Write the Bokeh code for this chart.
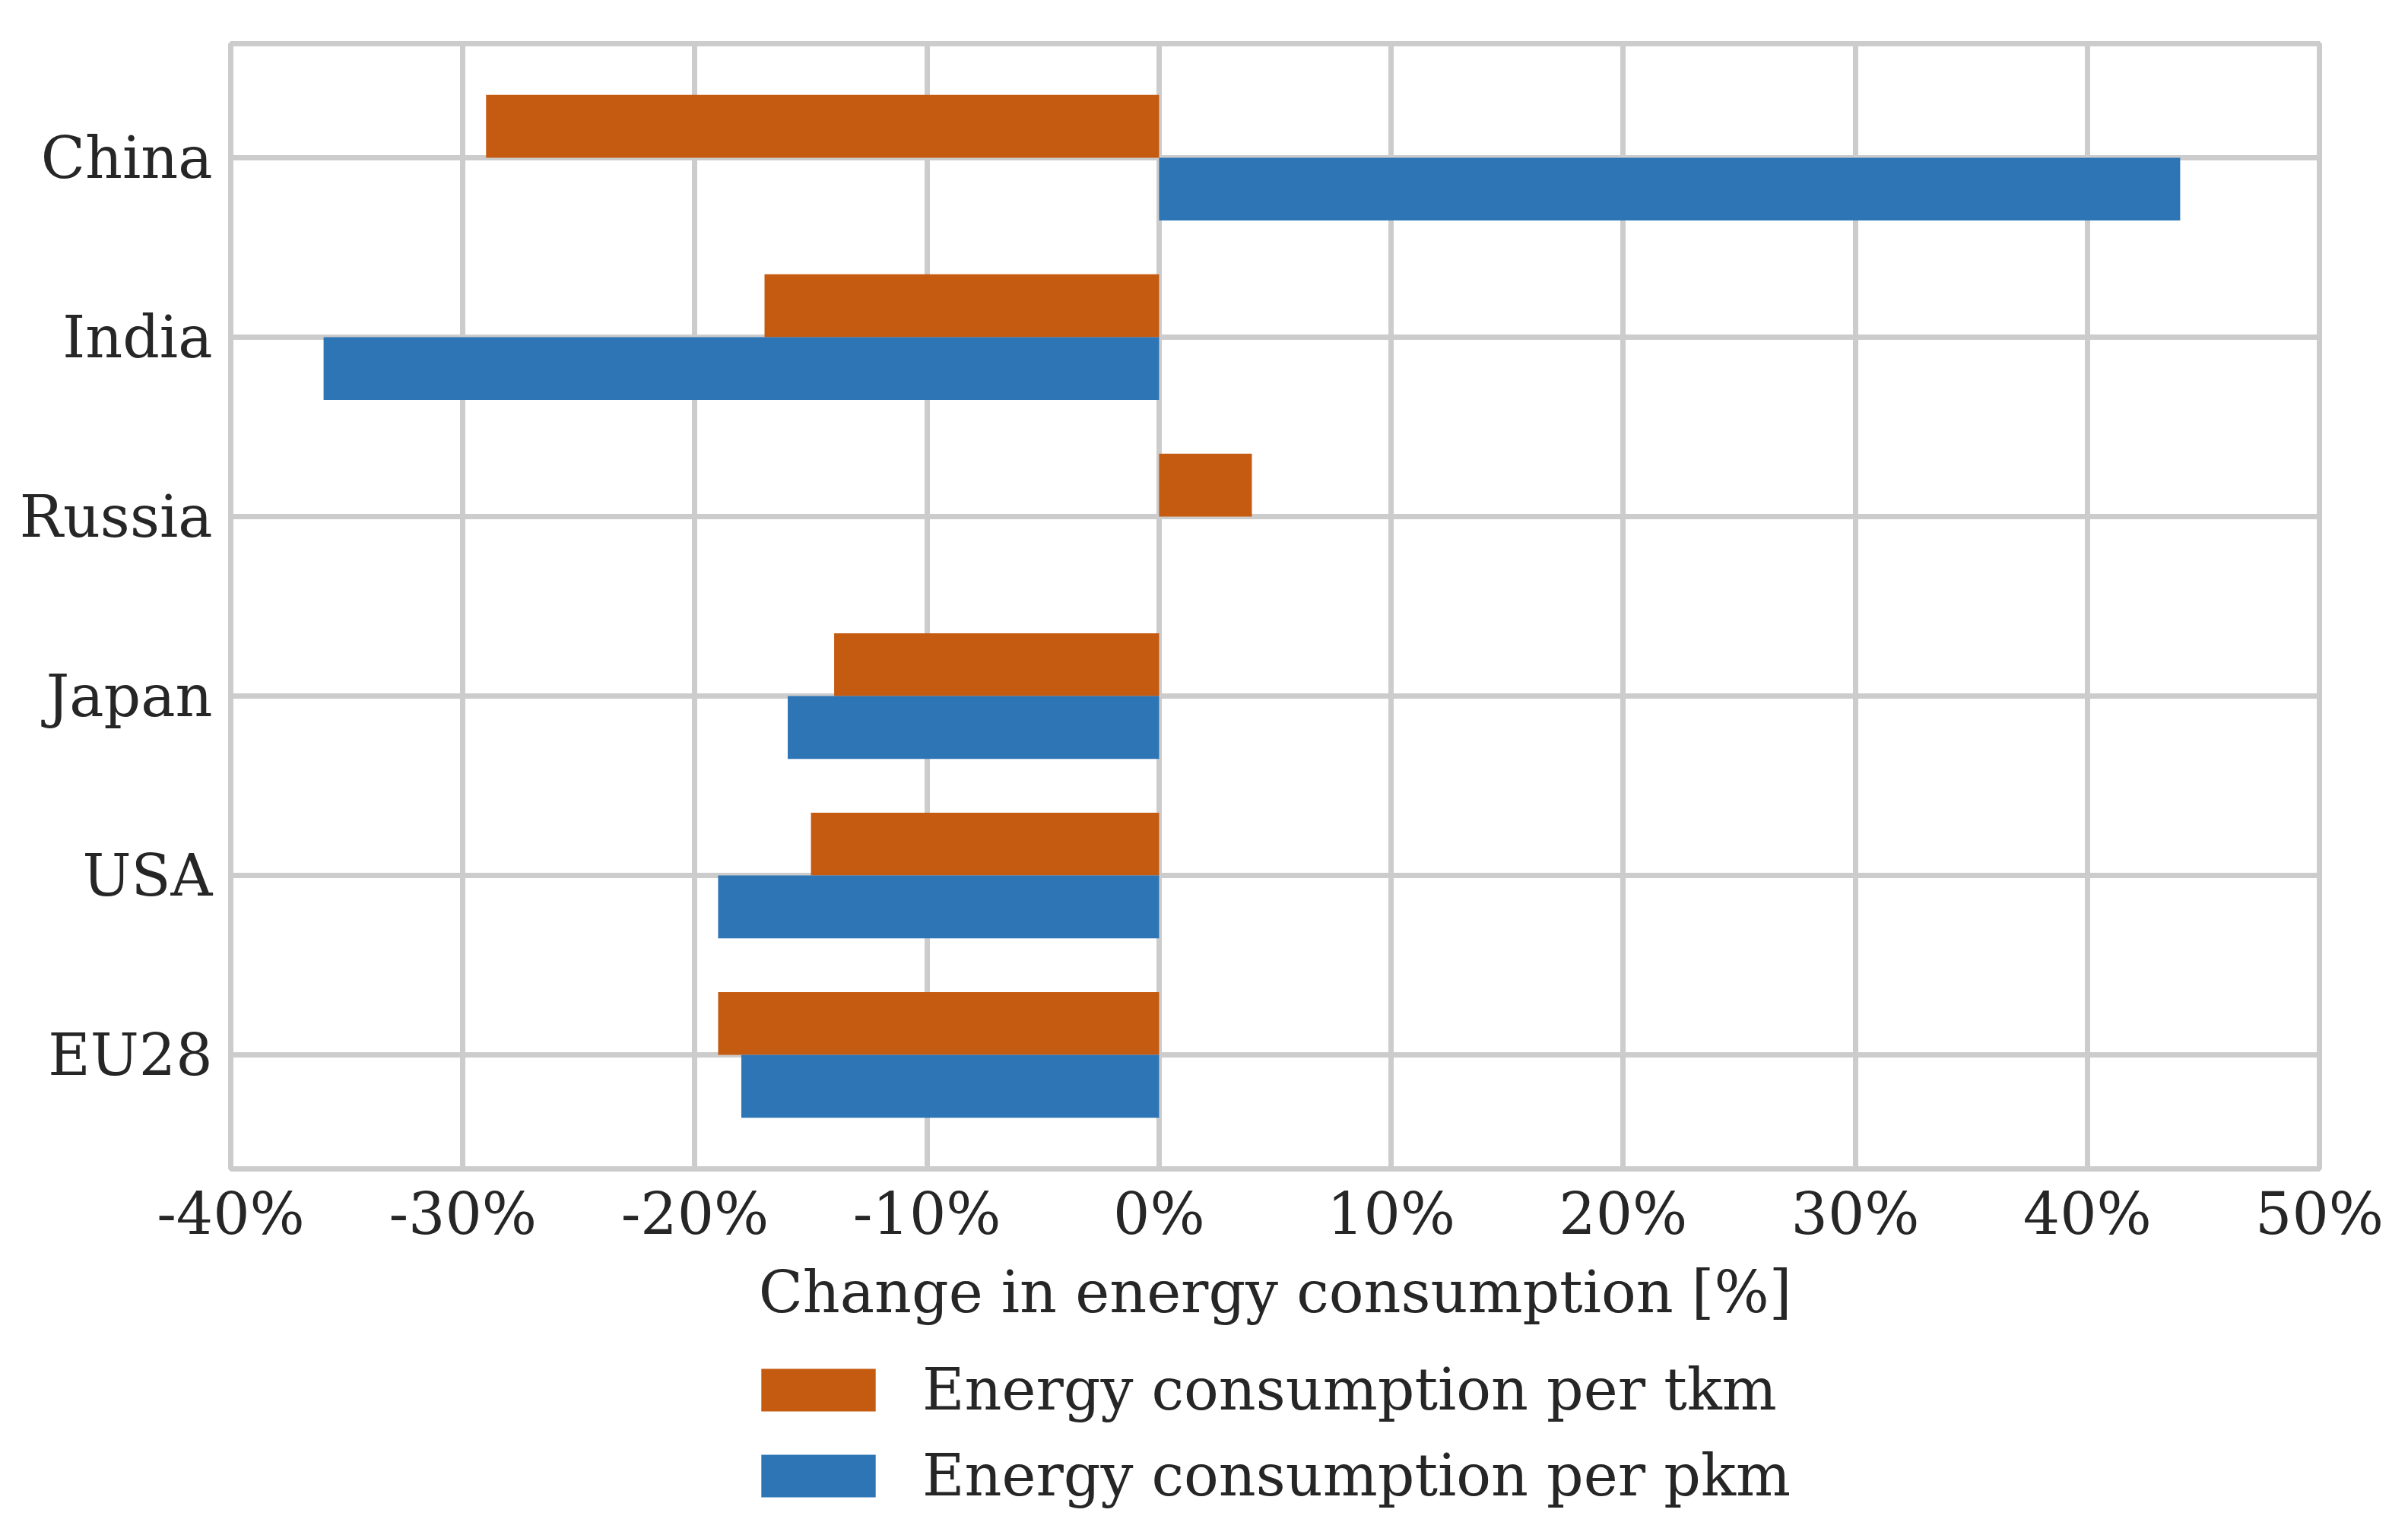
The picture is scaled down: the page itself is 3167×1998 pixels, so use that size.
from bokeh.plotting import figure
from bokeh.models import Range1d, FixedTicker, Legend, LegendItem, ColumnDataSource
from bokeh.layouts import column
from bokeh.embed import file_html
from bokeh.resources import INLINE

countries = ["China", "India", "Russia", "Japan", "USA", "EU28"]
tkm = [-29, -17, 4, -14, -15, -19]
pkm = [44, -36, float("nan"), -16, -19, -18]
xticks = [-40, -30, -20, -10, 0, 10, 20, 30, 40, 50]
xlabel = "Change in energy consumption [%]"
label_tkm = "Energy consumption per tkm"
label_pkm = "Energy consumption per pkm"

ORANGE = "#C55A11"
BLUE = "#2E75B6"
GRID = "#CCCCCC"
TEXT = "#262626"
FONT = "DejaVu Serif"
FS = "76px"
BAR_H = 0.35

idx = list(range(len(countries)))
src = ColumnDataSource(dict(
    y_tkm=[i - BAR_H / 2 for i in idx],
    y_pkm=[i + BAR_H / 2 for i in idx],
    tkm=tkm,
    pkm=pkm,
))

W = 3155
LEFT = 303
p = figure(
    frame_width=2747, frame_height=1480,
    x_range=Range1d(xticks[0], xticks[-1]),
    y_range=Range1d(len(countries) - 1 + 0.635, -0.635),
    output_backend="svg", toolbar_location=None,
    min_border_left=LEFT, min_border_top=57, min_border_right=105, min_border_bottom=230,
)
p.background_fill_color = "white"
p.border_fill_color = "white"
p.outline_line_color = GRID
p.outline_line_width = 7

r_tkm = p.hbar(y="y_tkm", left=0, right="tkm", height=BAR_H, source=src,
               fill_color=ORANGE, line_color=None)
r_pkm = p.hbar(y="y_pkm", left=0, right="pkm", height=BAR_H, source=src,
               fill_color=BLUE, line_color=None)

# axes
p.xaxis.ticker = FixedTicker(ticks=xticks)
p.xaxis.major_label_overrides = {t: f"{t}%" for t in xticks}
p.yaxis.ticker = FixedTicker(ticks=idx)
p.yaxis.major_label_overrides = {i: c for i, c in zip(idx, countries)}
for ax in (p.xaxis, p.yaxis):
    ax.axis_line_color = None
    ax.major_tick_line_color = None
    ax.minor_tick_line_color = None
    ax.major_tick_out = 0
    ax.major_tick_in = 0
    ax.major_label_text_font = FONT
    ax.major_label_text_font_size = FS
    ax.major_label_text_color = TEXT
p.xaxis.major_label_standoff = 14
p.yaxis.major_label_standoff = 24
p.xaxis.axis_label = xlabel
p.xaxis.axis_label_text_font = FONT
p.xaxis.axis_label_text_font_size = FS
p.xaxis.axis_label_text_font_style = "normal"
p.xaxis.axis_label_text_color = TEXT
p.xaxis.axis_label_standoff = 11

p.xgrid.ticker = FixedTicker(ticks=xticks)
p.ygrid.ticker = FixedTicker(ticks=idx)
for g in (p.xgrid, p.ygrid):
    g.grid_line_color = GRID
    g.grid_line_width = 7

# legend panel (separate figure below the chart); its ranges lie away from the
# data so that the legend renderers themselves draw nothing visible
LH = 223
q = figure(width=W, height=LH, x_range=Range1d(1000, 1001), y_range=Range1d(1000, 1001),
           output_backend="svg", toolbar_location=None,
           min_border_left=0, min_border_right=0, min_border_top=0, min_border_bottom=0)
q.axis.visible = False
q.grid.visible = False
q.outline_line_color = None
q.background_fill_color = "white"
q.border_fill_color = "white"
l_tkm = q.hbar(y="y_tkm", left=0, right="tkm", height=BAR_H, source=src,
               fill_color=ORANGE, line_color=None)
l_pkm = q.hbar(y="y_pkm", left=0, right="pkm", height=BAR_H, source=src,
               fill_color=BLUE, line_color=None)

GW, GH = 188, 70   # bar legend glyphs are drawn inset by 10% on each side
legend = Legend(items=[
    LegendItem(label=label_tkm, renderers=[l_tkm], index=0),
    LegendItem(label=label_pkm, renderers=[l_pkm], index=0),
], location=(982 - LEFT, 5))
legend.label_text_font = FONT
legend.label_text_font_size = FS
legend.label_text_color = TEXT
legend.glyph_width = GW
legend.glyph_height = GH
legend.label_standoff = 43
legend.spacing = 24
legend.padding = 0
legend.margin = 0
legend.border_line_color = None
legend.background_fill_alpha = 0
q.add_layout(legend, "center")

layout = column(p, q, spacing=0)
open("out.html", "w").write(file_html(layout, INLINE))
